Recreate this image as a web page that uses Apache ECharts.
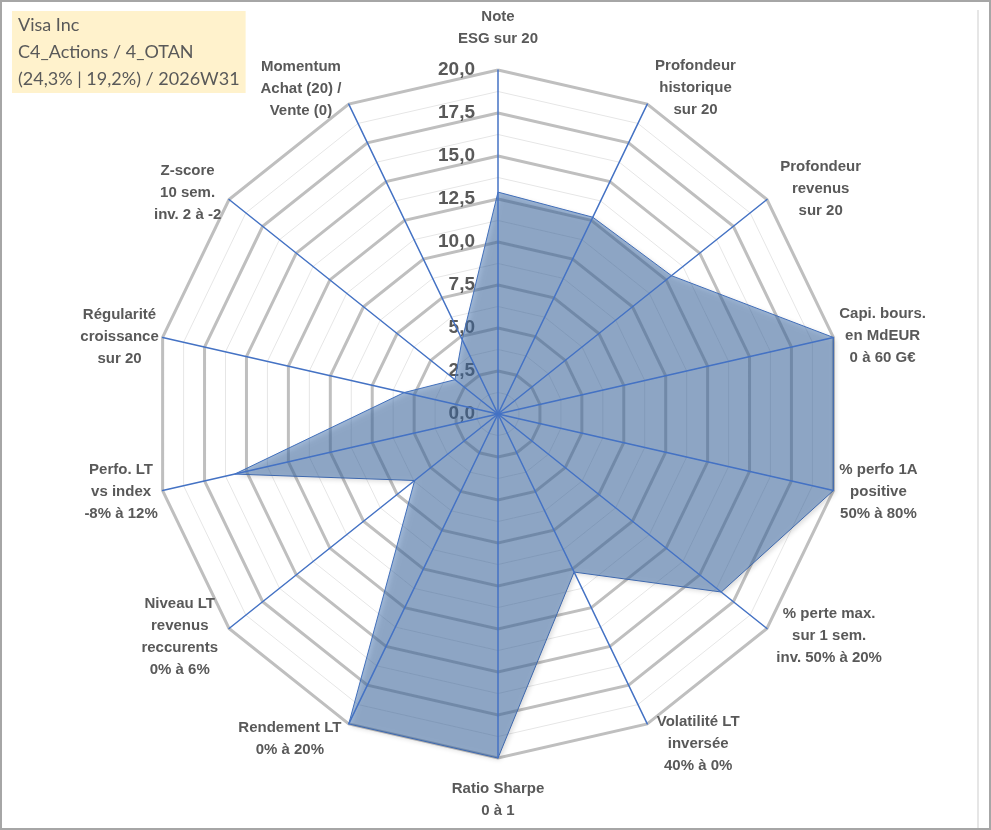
<!DOCTYPE html>
<html>
<head>
<meta charset="utf-8">
<script src="https://cdn.jsdelivr.net/npm/echarts@6/dist/echarts.min.js"></script>
<style>
  html, body { margin: 0; padding: 0; background: #fff; }
  #chart { width: 991px; height: 830px; box-sizing: border-box; border: 2px solid #a6a6a6; }
</style>
</head>
<body>
<div id="chart"></div>
<script>
// axes of the radar, clockwise from the top
var axisNames = [
    'Note\nESG sur 20',
    'Profondeur\nhistorique\nsur 20',
    'Profondeur\nrevenus\nsur 20',
    'Capi. bours.\nen MdEUR\n0 à 60 G€',
    '% perfo 1A\npositive\n50% à 80%',
    '% perte max.\nsur 1 sem.\ninv. 50% à 20%',
    'Volatilité LT\ninversée\n40% à 0%',
    'Ratio Sharpe\n0 à 1',
    'Rendement LT\n0% à 20%',
    'Niveau LT\nrevenus\nreccurents\n0% à 6%',
    'Perfo. LT\nvs index\n-8% à 12%',
    'Régularité\ncroissance\nsur 20',
    'Z-score\n10 sem.\ninv. 2 à -2',
    'Momentum\nAchat (20) /\nVente (0)'
];
var scores = [12.9, 12.7, 12.9, 20, 20, 16.6, 10.2, 20, 20, 6.2, 15.7, 5.6, 3.2, 4.8];
var scoreMax = 20;
var titleLines = ['Visa Inc', 'C4_Actions / 4_OTAN', '(24,3% | 19,2%) / 2026W31'];

// distance between each axis end and its name
var nameGaps = [20, 18, 17, 6, 6, 12, 22, 20, 17, 14, 5, 4, 10, 17];

var textGrey = '#595959';
var font = 'Liberation Sans, Arial, sans-serif';
var center = [496, 412];
var radius = 344;

// ECharts draws radar axes counter-clockwise, the sheet draws them clockwise
var order = [0];
for (var k = axisNames.length - 1; k > 0; k--) order.push(k);

function indicators(withLabel) {
    return order.map(function (i) {
        var ind = { name: axisNames[i], min: 0, max: scoreMax, nameGap: nameGaps[i] };
        if (!withLabel || i > 0) ind.axisLabel = { show: false };
        return ind;
    });
}

var chart = echarts.init(document.getElementById('chart'));
chart.setOption({
    animation: false,
    title: {
        text: titleLines.join('\n'),
        left: 10,
        top: 9,
        padding: [1, 6, 0, 6],
        backgroundColor: '#fff2cc',
        textStyle: {
            fontFamily: 'Lato, Carlito, sans-serif',
            fontWeight: 'normal',
            fontSize: 18,
            lineHeight: 27,
            color: textGrey
        }
    },
    graphic: [{
        type: 'line',
        shape: { x1: 976, y1: 8, x2: 976, y2: 826 },
        style: { stroke: '#e6e6e6', lineWidth: 2 }
    }],
    radar: [
        {
            // thin minor rings
            indicator: indicators(false),
            center: center,
            radius: radius,
            shape: 'polygon',
            splitNumber: 16,
            axisName: { show: false },
            axisLine: { show: false },
            axisTick: { show: false },
            splitArea: { show: false },
            splitLine: { lineStyle: { color: '#e6e6e6', width: 1 } }
        },
        {
            // major rings, names and tick labels
            indicator: indicators(true),
            center: center,
            radius: radius,
            shape: 'polygon',
            splitNumber: 8,
            axisName: {
                formatter: function (n) {
                    return n.split('\n').map(function (l) { return '{c|' + l + '}'; }).join('\n');
                },
                rich: {
                    c: {
                        align: 'center',
                        color: textGrey,
                        fontFamily: font,
                        fontWeight: 'bold',
                        fontSize: 15,
                        lineHeight: 22
                    }
                }
            },
            axisLine: { show: false },
            axisTick: { show: false },
            axisLabel: {
                show: true,
                color: textGrey,
                fontFamily: font,
                fontWeight: 'bold',
                fontSize: 19,
                margin: 23,
                formatter: function (v) { return v.toFixed(1).replace('.', ','); }
            },
            splitArea: { show: false },
            splitLine: { lineStyle: { color: '#bfbfbf', width: 3 } }
        },
        {
            // blue spokes drawn over the filled area
            indicator: indicators(false),
            center: center,
            radius: radius,
            shape: 'polygon',
            z: 5,
            axisName: { show: false },
            axisLine: { lineStyle: { color: '#4472c4', width: 1.5 } },
            axisTick: { show: false },
            splitArea: { show: false },
            splitLine: { show: false }
        }
    ],
    series: [{
        type: 'radar',
        radarIndex: 1,
        symbol: 'none',
        z: 3,
        lineStyle: { color: '#4472c4', width: 1 },
        areaStyle: {
            color: 'rgba(68, 114, 175, 0.72)',
            shadowBlur: 5,
            shadowColor: 'rgba(0, 0, 0, 0.3)',
            shadowOffsetX: 2,
            shadowOffsetY: 2
        },
        data: [{ value: order.map(function (i) { return scores[i]; }), name: 'Visa Inc' }]
    }]
});
</script>
</body>
</html>
